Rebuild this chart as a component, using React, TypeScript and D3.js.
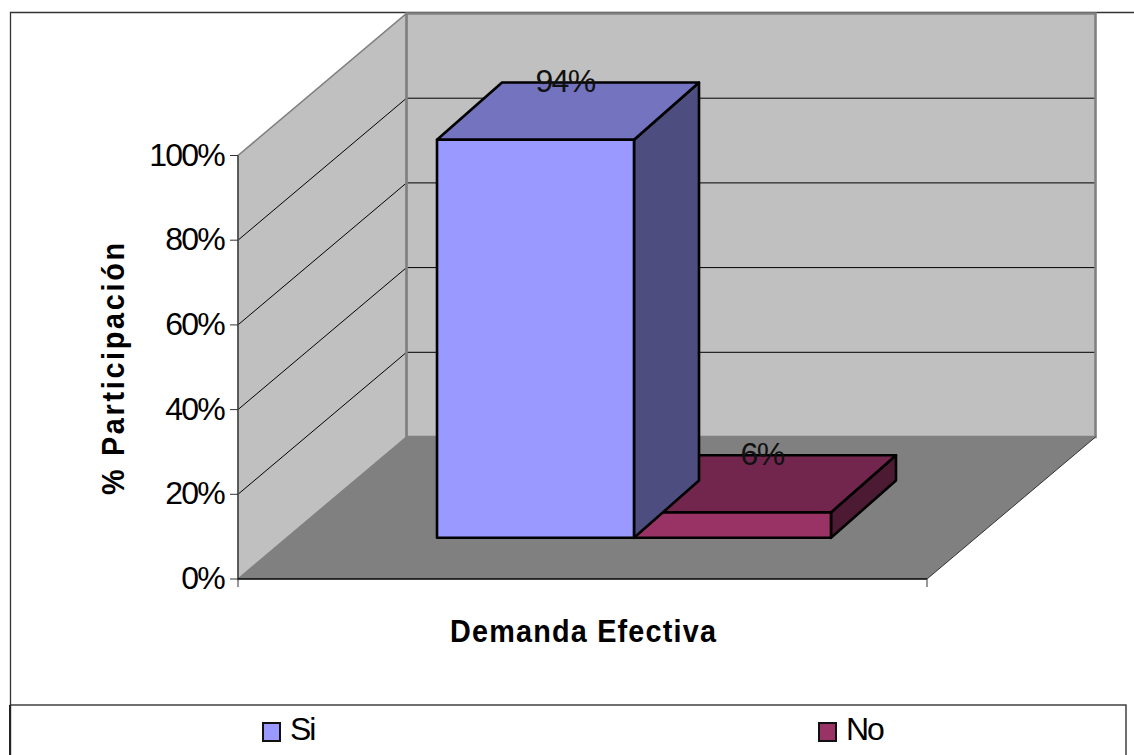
import React from "react";
import * as d3 from "d3";

// Chart data
const categories = ["Si", "No"];
const shares = [94, 6];
const valueLabels = ["94%", "6%"];
const axisTicks = [0, 20, 40, 60, 80, 100];
const xTitle = "Demanda Efectiva";
const yTitle = "% Participación";
const frontColors = ["#9999ff", "#993366"];
const topColors = ["#7373bf", "#73264d"];
const sideColors = ["#4d4d80", "#4d1a33"];

const WIDTH = 1134;
const HEIGHT = 755;
const FONT = "'Liberation Sans', Arial, sans-serif";

// Oblique 3D projection: front plane scales plus a depth shift
const xScale = d3.scaleLinear().domain([0, 1]).range([238, 927]);
const yScale = d3.scaleLinear().domain([0, 100]).range([579, 155.5]);
const depthX = d3.scaleLinear().domain([0, 1]).range([0, 168.5]);
const depthY = d3.scaleLinear().domain([0, 1]).range([0, -142]);

type Depth = [number, number];
const wallFront: Depth = [0, 0];
const wallBack: Depth = [1, 1];
const barFront: Depth = [0.3056, 0.29];
const barBack: Depth = [0.6914, 0.693];
const barMiddle: Depth = [0.4985, 0.4915];

const project = (x: number, v: number, d: Depth): [number, number] => [
  xScale(x) + depthX(d[0]),
  yScale(v) + depthY(d[1]),
];
const poly = (pts: [number, number][]) => d3.line()(pts)! + "Z";

// Both bars share a single category slot along the horizontal axis
const barBand = d3
  .scaleBand<string>()
  .domain(categories)
  .range([0, 1])
  .paddingOuter(0.7489)
  .paddingInner(0);

export default function App() {
  const leftWall = poly([
    project(0, 0, wallFront),
    project(0, 100, wallFront),
    project(0, 100, wallBack),
    project(0, 0, wallBack),
  ]);
  const backWall = poly([
    project(0, 0, wallBack),
    project(0, 100, wallBack),
    project(1, 100, wallBack),
    project(1, 0, wallBack),
  ]);
  const floor = poly([
    project(0, 0, wallFront),
    project(0, 0, wallBack),
    project(1, 0, wallBack),
    project(1, 0, wallFront),
  ]);
  return (
    <svg
      width={WIDTH}
      height={HEIGHT}
      viewBox={`0 0 ${WIDTH} ${HEIGHT}`}
      style={{ position: "absolute", left: 0, top: 0, background: "#fff" }}
      fontFamily={FONT}
    >
      {/* Chart frame and legend box */}
      <path d="M10.5 705V12.5H1134" fill="none" stroke="#333" strokeWidth={1.3} />
      <rect x={10.5} y={705} width={1115.5} height={60} fill="#fff" stroke="#333" strokeWidth={1.4} />
      <line x1={10} x2={10} y1={705} y2={755} stroke="#222" strokeWidth={2} />

      {/* Wall fills */}
      <path d={leftWall} fill="#c0c0c0" />
      <path d={backWall} fill="#c0c0c0" />

      {/* Gridlines along both walls */}
      {axisTicks.slice(1, -1).map((t) => (
        <path
          key={t}
          d={d3.line()([project(0, t, wallFront), project(0, t, wallBack), project(1, t, wallBack)])!}
          fill="none"
          stroke="#000"
          strokeWidth={1}
        />
      ))}

      {/* Wall outlines and floor */}
      <path d={leftWall} fill="none" stroke="#808080" strokeWidth={1.6} />
      <path d={backWall} fill="none" stroke="#808080" strokeWidth={2.6} />
      <path d={floor} fill="#808080" />

      {/* Front axis lines and the floor's right edge */}
      <path d={d3.line()([project(1, 0, wallFront), project(1, 0, wallBack)])!} stroke="#333" strokeWidth={1} fill="none" />
      <path d={d3.line()([project(0, 0, wallFront), project(0, 100, wallFront)])!} stroke="#222" strokeWidth={1} fill="none" />
      <path d={d3.line()([project(0, 0, wallFront), project(1, 0, wallFront)])!} stroke="#000" strokeWidth={1.5} fill="none" />

      {/* Bars, right-hand one first so the left one overlaps it */}
      {categories
        .map((c, i) => ({ c, i, v: shares[i] }))
        .reverse()
        .map(({ c, i, v }) => {
          const x0 = barBand(c)!;
          const x1 = x0 + barBand.bandwidth();
          const front = poly([project(x0, 0, barFront), project(x0, v, barFront), project(x1, v, barFront), project(x1, 0, barFront)]);
          const top = poly([project(x0, v, barFront), project(x0, v, barBack), project(x1, v, barBack), project(x1, v, barFront)]);
          const side = poly([project(x1, 0, barFront), project(x1, v, barFront), project(x1, v, barBack), project(x1, 0, barBack)]);
          return (
            <g key={c} stroke="#000" strokeWidth={2.6} strokeLinejoin="round">
              <path d={side} fill={sideColors[i]} />
              <path d={top} fill={topColors[i]} />
              <path d={front} fill={frontColors[i]} />
            </g>
          );
        })}

      {/* Value labels */}
      {categories.map((c, i) => {
        const xm = barBand(c)! + barBand.bandwidth() / 2;
        const [px, py] = project(xm, shares[i], barMiddle);
        return (
          <text key={c} x={px - 3} y={py - 19} fontSize={32} textAnchor="middle" fill="#111" letterSpacing={-1.6}>
            {valueLabels[i]}
          </text>
        );
      })}

      {/* Value axis */}
      {axisTicks.map((t) => (
        <g key={t}>
          <line x1={230} x2={238} y1={yScale(t)} y2={yScale(t)} stroke="#333" strokeWidth={1} />
          <text x={224} y={yScale(t) + 10} fontSize={32} textAnchor="end" fill="#000" letterSpacing={-1.8}>
            {t}%
          </text>
        </g>
      ))}
      <line x1={238} x2={238} y1={579} y2={587} stroke="#333" strokeWidth={1} />
      <line x1={927} x2={927} y1={579} y2={587} stroke="#333" strokeWidth={1} />

      {/* Axis titles: condensed glyphs with open tracking */}
      <text
        transform="translate(583,642) scale(0.9,1)"
        fontSize={32}
        fontWeight="bold"
        textAnchor="middle"
        textLength={295.5}
        lengthAdjust="spacing"
      >
        {xTitle}
      </text>
      <text
        transform="translate(123.5,369) rotate(-90) scale(0.9,1)"
        fontSize={32}
        fontWeight="bold"
        textAnchor="middle"
        textLength={280}
        lengthAdjust="spacing"
      >
        {yTitle}
      </text>

      {/* Legend */}
      {categories.map((c, i) => {
        const lx = [263, 819][i];
        return (
          <g key={c}>
            <rect x={lx} y={723} width={17} height={18} fill={frontColors[i]} stroke="#111" strokeWidth={2} />
            <text x={lx + 27} y={740} fontSize={32} letterSpacing={-2}>
              {c}
            </text>
          </g>
        );
      })}
    </svg>
  );
}
